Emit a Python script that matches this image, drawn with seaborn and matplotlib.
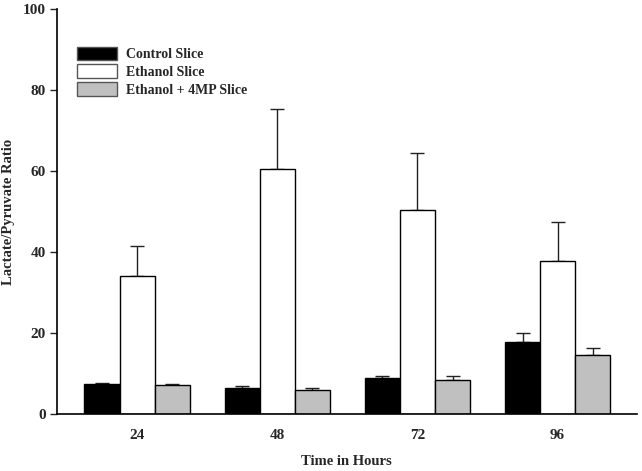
import pandas as pd
import matplotlib.pyplot as plt
import seaborn as sns

hours = ["24", "48", "72", "96"]
groups = ["Control Slice", "Ethanol Slice", "Ethanol + 4MP Slice"]
control = [7.4, 6.3, 8.9, 17.8]
ethanol = [34.1, 60.6, 50.4, 37.7]
ethanol_4mp = [7.2, 5.9, 8.3, 14.5]
control_err = [0.3, 0.5, 0.6, 2.3]
ethanol_err = [7.5, 14.6, 14.0, 9.6]
ethanol_4mp_err = [0.2, 0.5, 1.2, 1.7]

colors = ["black", "white", "#c0c0c0"]

df = pd.DataFrame({
    "hours": hours * 3,
    "group": [g for g in groups for _ in hours],
    "ratio": control + ethanol + ethanol_4mp,
})
errs = control_err + ethanol_err + ethanol_4mp_err

sns.set_style("ticks")
plt.rcParams["font.family"] = ["Liberation Serif", "DejaVu Serif"]
plt.rcParams["font.weight"] = "bold"

fig = plt.figure(figsize=(6.42, 4.71), dpi=100)
ax = fig.add_axes([0.0888, 0.121, 0.903, 0.860])

sns.barplot(data=df, x="hours", y="ratio", hue="group", order=hours,
            hue_order=groups, palette=colors, width=0.75, gap=0,
            edgecolor="black", linewidth=1, errorbar=None, ax=ax)

# error bars (upper only), positioned from the drawn bars
bars = [p for p in ax.patches if p.get_height() > 0][:len(errs)]
xs = [p.get_x() + p.get_width() / 2 for p in bars]
ys = [p.get_height() for p in bars]
ax.errorbar(xs, ys, yerr=[[0] * len(errs), errs], fmt="none",
            ecolor="#222222", elinewidth=1, capsize=5, capthick=1, zorder=0.5)

ax.set_xlim(-0.571, 3.564)
ax.set_ylim(0, 100)
ax.set_yticks([0, 20, 40, 60, 80, 100])
ax.tick_params(axis="x", length=0, pad=11, labelsize=11)
ax.tick_params(axis="y", direction="out", length=5, width=1, labelsize=11, pad=3)
for lab in ax.get_xticklabels() + ax.get_yticklabels():
    lab.set_fontweight("bold")
ax.set_xlabel("Time in Hours", fontsize=10.5, fontweight="bold", labelpad=9)
ax.set_ylabel("Lactate/Pyruvate Ratio", fontsize=10.5, fontweight="bold", labelpad=6)
sns.despine(ax=ax)
for s in ["left", "bottom"]:
    ax.spines[s].set_linewidth(1.2)
    ax.spines[s].set_color("black")

leg = ax.legend(loc="upper left", bbox_to_anchor=(0.025, 0.921), frameon=False,
                handlelength=2.9, handleheight=1.1, labelspacing=0.25,
                handletextpad=0.65, borderaxespad=0,
                prop={"weight": "bold", "size": 10})
for h in leg.legend_handles:
    h.set_edgecolor("#555555")

fig.savefig("out.png", dpi=100)
